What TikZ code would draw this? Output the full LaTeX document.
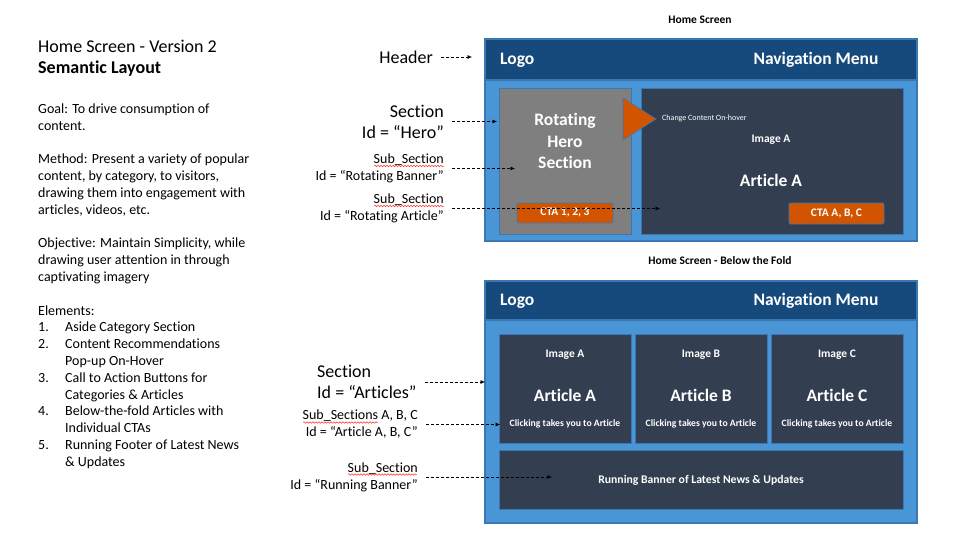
\documentclass[tikz,border=0pt]{standalone}
\usepackage{fontspec}
\setmainfont{Carlito}[Ligatures=NoCommon]
\usetikzlibrary{arrows.meta,decorations.pathmorphing}
\definecolor{hdr}{HTML}{174A7C}
\definecolor{scr}{HTML}{4A95D6}
\definecolor{edge}{HTML}{3A78B4}
\definecolor{card}{HTML}{333F50}
\definecolor{hero}{HTML}{7F7F7F}
\definecolor{cta}{HTML}{D35400}
\tikzset{screen/.style={draw=edge,line width=1.2pt,fill=scr,rectangle,inner sep=0pt}}
\tikzset{bar/.style={draw=edge,line width=1.2pt,fill=hdr,rectangle,inner sep=0pt}}
\tikzset{card/.style={draw=edge,line width=0.8pt,fill=card,rectangle,inner sep=0pt}}
\tikzset{herobox/.style={draw=edge,line width=0.8pt,fill=hero,rectangle,inner sep=0pt}}
\tikzset{cta/.style={white,draw=edge,line width=0.8pt,fill=cta,rectangle,rounded corners=2pt,inner sep=0pt,font=\fontsize{11.5}{13}\selectfont\bfseries}}
\tikzset{tri/.style={draw=edge,line width=0.6pt,fill=cta}}
\tikzset{big/.style={white,inner sep=0pt,font=\fontsize{17.5}{21.5}\selectfont\bfseries}}
\tikzset{mid/.style={white,inner sep=0pt,font=\fontsize{11.5}{13}\selectfont\bfseries}}
\tikzset{sml/.style={white,inner sep=0pt,font=\fontsize{9.7}{11}\selectfont\bfseries}}
\tikzset{tiny/.style={white,inner sep=0pt,font=\fontsize{8}{9}\selectfont}}
\tikzset{head/.style={black,inner sep=0pt,font=\fontsize{11.5}{13}\selectfont\bfseries}}
\tikzset{lbl/.style={black,inner sep=0pt,align=right,font=\fontsize{18}{21}\selectfont}}
\tikzset{sublbl/.style={black,inner sep=0pt,align=right,font=\fontsize{14}{17}\selectfont}}
\tikzset{notes/.style={black,inner sep=0pt,align=left,anchor=north west}}
\tikzset{lnk/.style={black,line width=0.6pt,dash pattern=on 3pt off 2pt,-{Latex[length=4.5pt,width=4pt]},shorten <=8pt}}
\tikzset{typo/.style={red!80!white,line width=0.5pt,decorate,decoration={snake,amplitude=0.8pt,segment length=3pt}}}

\begin{document}
\begin{tikzpicture}[x=1pt,y=-1pt]
    \useasboundingbox (0,0) rectangle (958,538);

    % notes on the left
    \node[notes,font=\fontsize{18}{21}\selectfont] (title) at (38,40) {Home Screen - Version 2\\\textbf{Semantic Layout}};
    \node[notes,font=\fontsize{14}{16.8}\selectfont] (notes) at (38,103.5) {Goal: To drive consumption of\\content.\\[16.8pt]
        Method: Present a variety of popular\\content, by category, to visitors,\\drawing them into engagement with\\articles, videos, etc.\\[16.8pt]
        Objective: Maintain Simplicity, while\\drawing user attention in through\\captivating imagery\\[16.8pt]
        Elements:\\
        \makebox[27pt][l]{1.}Aside Category Section\\
        \makebox[27pt][l]{2.}Content Recommendations\\\hspace*{27pt}Pop-up On-Hover\\
        \makebox[27pt][l]{3.}Call to Action Buttons for\\\hspace*{27pt}Categories \& Articles\\
        \makebox[27pt][l]{4.}Below-the-fold Articles with\\\hspace*{27pt}Individual CTAs\\
        \makebox[27pt][l]{5.}Running Footer of Latest News\\\hspace*{27pt}\& Updates};

    % home screen
    \node[head] (head1) at (700,20) {Home Screen};
    \node[screen,minimum width=432pt,minimum height=202pt] (top) at (701,140) {};
    \node[bar,minimum width=432pt,minimum height=41pt] (topbar) at (701,59.5) {};
    \node[big,anchor=west] (logo1) at (500,60) {Logo};
    \node[big] (nav1) at (816,60) {Navigation Menu};
    \node[herobox,minimum width=132pt,minimum height=146pt] (hero) at (565,161) {};
    \node[big,align=center] (herotxt) at (565,141) {Rotating\\Hero\\Section};
    \node[card,minimum width=262pt,minimum height=146pt] (rot) at (772,161) {};
    \draw[tri] (623,98) -- (656,119) -- (623,140) -- cycle;
    \node[tiny,anchor=west] (hover) at (662,118) {Change Content On-hover};
    \node[mid] (img0) at (771,140) {Image A};
    \node[big] (art0) at (771,180) {Article A};
    \node[cta,minimum width=96pt,minimum height=20pt] (cta1) at (565,213) {CTA 1, 2, 3};
    \node[cta,minimum width=95pt,minimum height=21pt] (cta2) at (836.5,213.5) {CTA A, B, C};

    \node[lbl,anchor=east] (header) at (433,57) {Header};
    \node[lbl,anchor=east] (sechero) at (444,121.5) {Section\\Id = “Hero”};
    \node[sublbl,anchor=east] (subbanner) at (444,168.5) {Sub\_Section\\Id = “Rotating Banner”};
    \node[sublbl,anchor=east] (subarticle) at (444,208.5) {Sub\_Section\\Id = “Rotating Article”};

    \coordinate (headerend) at (472,57);
    \coordinate (heroend) at (497,121.5);
    \coordinate (bannerend) at (515,168.5);
    \coordinate (articleend) at (660,208.5);

    \draw[lnk] (header.east) -- (headerend);
    \draw[lnk] (sechero.east) -- (heroend);
    \draw[lnk] (subbanner.east) -- (bannerend);
    \draw[lnk] (subarticle.east) -- (articleend);

    \draw[typo] (374,166) -- (444,166);
    \draw[typo] (374,206) -- (444,206);

    % home screen below the fold
    \node[head] (head2) at (720,261) {Home Screen - Below the Fold};
    \node[screen,minimum width=432pt,minimum height=242pt] (bot) at (701,402) {};
    \node[bar,minimum width=432pt,minimum height=39pt] (botbar) at (701,300.5) {};
    \node[big,anchor=west] (logo2) at (500,301) {Logo};
    \node[big] (nav2) at (816,301) {Navigation Menu};

    \node[card,minimum width=132pt,minimum height=109pt] (cardA) at (565,388.5) {};
    \node[card,minimum width=132pt,minimum height=109pt] (cardB) at (701,388.5) {};
    \node[card,minimum width=132pt,minimum height=109pt] (cardC) at (837,388.5) {};
    \node[mid] (imgA) at (565,355) {Image A};
    \node[mid] (imgB) at (701,355) {Image B};
    \node[mid] (imgC) at (837,355) {Image C};
    \node[big] (artA) at (565,395) {Article A};
    \node[big] (artB) at (701,395) {Article B};
    \node[big] (artC) at (837,395) {Article C};
    \node[sml] (clkA) at (565,424) {Clicking takes you to Article};
    \node[sml] (clkB) at (701,424) {Clicking takes you to Article};
    \node[sml] (clkC) at (837,424) {Clicking takes you to Article};
    \node[card,minimum width=404pt,minimum height=59pt] (news) at (701,479.5) {};
    \node[sml,font=\fontsize{11.7}{13}\selectfont\bfseries] (newstxt) at (701,480) {Running Banner of Latest News \& Updates};

    \node[lbl,align=left,anchor=west] (secart) at (317,382) {Section\\Id = “Articles”};
    \node[sublbl,anchor=east] (subabc) at (418,424.5) {Sub\_Sections A, B, C\\Id = “Article A, B, C”};
    \node[sublbl,anchor=east] (subnews) at (418,477) {Sub\_Section\\Id = “Running Banner”};

    \coordinate (artend) at (485,382);
    \coordinate (abcend) at (500,424.5);
    \coordinate (newsend) at (552,477);

    \draw[lnk] (secart.east) -- (artend);
    \draw[lnk] (subabc.east) -- (abcend);
    \draw[lnk] (subnews.east) -- (newsend);

    \draw[typo] (303,422.5) -- (378,422.5);
    \draw[typo] (348,474.5) -- (417,474.5);
\end{tikzpicture}
\end{document}
